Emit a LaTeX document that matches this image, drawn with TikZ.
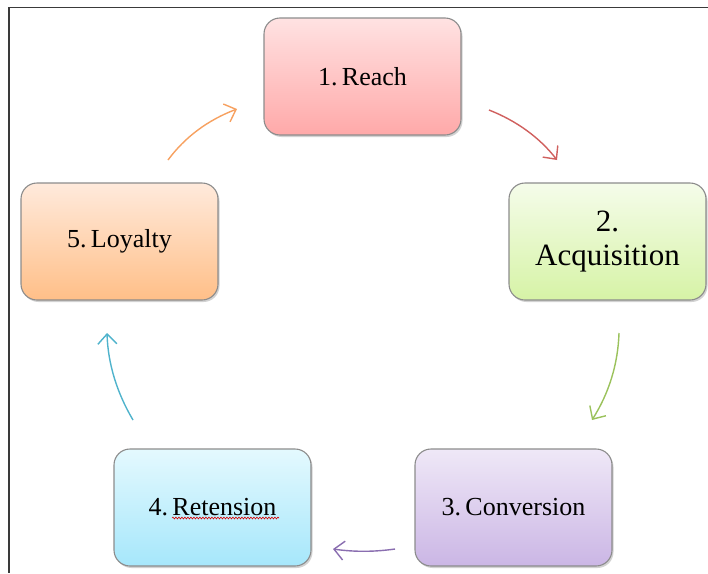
\documentclass[tikz,border=0pt]{standalone}
\usepackage{fontspec}
\setmainfont{Liberation Serif}
\newfontfamily\boxfont{Liberation Serif}
\usetikzlibrary{shadows,arrows.meta,decorations.pathmorphing}
\definecolor{framec}{HTML}{3A3A3A}
\definecolor{boxline}{HTML}{8C8C8C}
\definecolor{redA}{HTML}{FFE2E2}\definecolor{redB}{HTML}{FFA9A9}
\definecolor{grnA}{HTML}{F5FCEA}\definecolor{grnB}{HTML}{D6F3A6}
\definecolor{purA}{HTML}{EFE8F7}\definecolor{purB}{HTML}{CBB6E5}
\definecolor{bluA}{HTML}{E4F9FE}\definecolor{bluB}{HTML}{A6E7FB}
\definecolor{orgA}{HTML}{FFEADC}\definecolor{orgB}{HTML}{FFBF88}
\definecolor{arrRed}{HTML}{D0605E}
\definecolor{arrGrn}{HTML}{9BC25C}
\definecolor{arrPur}{HTML}{8A6EB0}
\definecolor{arrBlu}{HTML}{4FB3CC}
\definecolor{arrOrg}{HTML}{F7A160}
\tikzset{
  stagebox/.style={draw=boxline, line width=1.1pt, rounded corners=16pt,
    minimum width=197pt, minimum height=117pt, inner sep=2pt,
    font=\boxfont\fontsize{26}{30}\selectfont, text=black,
    drop shadow={opacity=0.35, shadow xshift=1.5pt, shadow yshift=-2pt}},
  cyc/.style={line width=1.4pt, -{Straight Barb[length=10pt,width=19pt,line width=1.4pt]}}
}
\begin{document}
\begin{tikzpicture}[x=1pt,y=-1pt]
\useasboundingbox (0,0) rectangle (708,573);
\fill[white] (0,0) rectangle (708,573);
\draw[framec, line width=1.6pt] (708,7.5) -- (9,7.5) -- (9,573);

\node[stagebox, top color=redA, bottom color=redB] (reach) at (362.5,76.5) {1.\,Reach};
\node[stagebox, top color=grnA, bottom color=grnB, align=center,
      font=\boxfont\fontsize{31}{34}\selectfont] (acq) at (607.5,241.5) {2.\\Acquisition};
\node[stagebox, top color=purA, bottom color=purB] (conv) at (513.5,507.5) {3.\,Conversion};
\node[stagebox, top color=bluA, bottom color=bluB] (ret) at (212.5,507.5) {4.\,Retension};
\node[stagebox, top color=orgA, bottom color=orgB] (loy) at (119.5,241.5) {5.\,Loyalty};

\draw[red!85!black, line width=0.6pt, decorate,
      decoration={snake, amplitude=0.9pt, segment length=3pt}]
  (172,518) -- (279,518);

\coordinate (r1) at (489,110); \coordinate (r2) at (557,160);
\coordinate (g1) at (619,333); \coordinate (g2) at (592,420);
\coordinate (p1) at (395,549); \coordinate (p2) at (333,549);
\coordinate (b1) at (133,420); \coordinate (b2) at (107,333);
\coordinate (o1) at (168,160); \coordinate (o2) at (237,109);

\draw[cyc, arrRed] (r1) .. controls (517,121) and (540,138) .. (r2);
\draw[cyc, arrGrn] (g1) .. controls (618,364) and (609,393) .. (g2);
\draw[cyc, arrPur] (p1) .. controls (374,552) and (354,552) .. (p2);
\draw[cyc, arrBlu] (b1) .. controls (117,393) and (108,364) .. (b2);
\draw[cyc, arrOrg] (o1) .. controls (185,137) and (208,120) .. (o2);
\end{tikzpicture}
\end{document}
